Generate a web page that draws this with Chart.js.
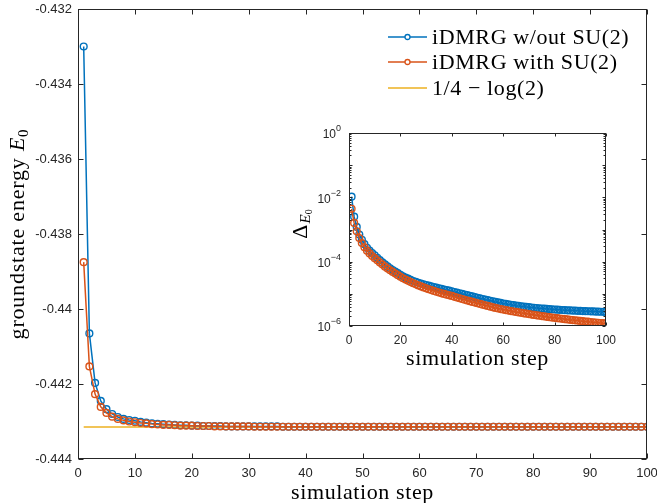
<!DOCTYPE html>
<html>
<head>
<meta charset="utf-8">
<script src="https://cdn.jsdelivr.net/npm/chart.js@4.4.1/dist/chart.umd.min.js"></script>
<style>
  html, body { margin: 0; padding: 0; background: #fff; }
  #wrap { position: relative; width: 657px; height: 503px; }
  #mainChart { position: absolute; left: 0; top: 0; }
  #insetChart { position: absolute; left: 280px; top: 115px; }
</style>
</head>
<body>
<div id="wrap">
  <canvas id="mainChart" width="657" height="503"></canvas>
  <canvas id="insetChart" width="340" height="265"></canvas>
</div>
<script>
// simulation steps 1..100
var steps = Array.from({ length: 100 }, function (_, i) { return i + 1; });

// groundstate energy per step (main plot)
var energyNoSu2 = [
  -0.43300, -0.44065, -0.44197, -0.44245, -0.44267, -0.44280, -0.44288, -0.44293, -0.44296, -0.44298,
  -0.44301, -0.44303, -0.44305, -0.44306, -0.44307, -0.44308, -0.44309, -0.44310, -0.44310, -0.44311,
  -0.44311, -0.44312, -0.44312, -0.44312, -0.44312, -0.44313, -0.44313, -0.44313, -0.44313, -0.44313,
  -0.44313, -0.44313, -0.44313, -0.44313, -0.44313, -0.44314, -0.44314, -0.44314, -0.44314, -0.44314,
  -0.44314, -0.44314, -0.44314, -0.44314, -0.44314, -0.44314, -0.44314, -0.44314, -0.44314, -0.44314,
  -0.44314, -0.44314, -0.44314, -0.44314, -0.44314, -0.44314, -0.44314, -0.44314, -0.44314, -0.44314,
  -0.44314, -0.44314, -0.44314, -0.44314, -0.44314, -0.44314, -0.44314, -0.44314, -0.44314, -0.44314,
  -0.44314, -0.44314, -0.44314, -0.44314, -0.44314, -0.44314, -0.44314, -0.44314, -0.44314, -0.44314,
  -0.44314, -0.44314, -0.44314, -0.44314, -0.44314, -0.44314, -0.44314, -0.44314, -0.44314, -0.44314,
  -0.44314, -0.44314, -0.44314, -0.44314, -0.44314, -0.44314, -0.44314, -0.44314, -0.44314, -0.44314
];
var energySu2 = [
  -0.43875, -0.44153, -0.44227, -0.44261, -0.44277, -0.44287, -0.44293, -0.44297, -0.44300, -0.44302,
  -0.44304, -0.44305, -0.44307, -0.44308, -0.44309, -0.44309, -0.44310, -0.44311, -0.44311, -0.44311,
  -0.44312, -0.44312, -0.44312, -0.44313, -0.44313, -0.44313, -0.44313, -0.44313, -0.44313, -0.44313,
  -0.44314, -0.44314, -0.44314, -0.44314, -0.44314, -0.44314, -0.44314, -0.44314, -0.44314, -0.44314,
  -0.44314, -0.44314, -0.44314, -0.44314, -0.44314, -0.44314, -0.44314, -0.44314, -0.44314, -0.44314,
  -0.44314, -0.44314, -0.44314, -0.44314, -0.44314, -0.44314, -0.44314, -0.44314, -0.44314, -0.44314,
  -0.44314, -0.44314, -0.44314, -0.44314, -0.44314, -0.44314, -0.44314, -0.44314, -0.44314, -0.44314,
  -0.44314, -0.44314, -0.44314, -0.44314, -0.44314, -0.44314, -0.44314, -0.44314, -0.44314, -0.44314,
  -0.44314, -0.44314, -0.44314, -0.44314, -0.44314, -0.44314, -0.44314, -0.44314, -0.44314, -0.44314,
  -0.44314, -0.44314, -0.44314, -0.44314, -0.44314, -0.44314, -0.44314, -0.44314, -0.44314, -0.44314
];
// 1/4 - log(2)
var exactEnergy = -0.443147;

// energy error per step (inset, log scale)
var deltaNoSu2 = [
  1.05e-2, 2.5e-3, 1.2e-3, 7.0e-4, 4.8e-4, 3.5e-4, 2.7e-4, 2.2e-4, 1.85e-4, 1.58e-4,
  1.32e-4, 1.11e-4, 9.5e-5, 8.2e-5, 7.1e-5, 6.25e-5, 5.5e-5, 4.9e-5, 4.4e-5, 3.9e-5,
  3.5e-5, 3.2e-5, 2.95e-5, 2.7e-5, 2.5e-5, 2.35e-5, 2.2e-5, 2.08e-5, 1.98e-5, 1.88e-5,
  1.79e-5, 1.71e-5, 1.63e-5, 1.56e-5, 1.49e-5, 1.42e-5, 1.36e-5, 1.3e-5, 1.25e-5, 1.2e-5,
  1.14e-5, 1.09e-5, 1.04e-5, 9.9e-6, 9.5e-6, 9.1e-6, 8.7e-6, 8.3e-6, 7.9e-6, 7.5e-6,
  7.2e-6, 6.9e-6, 6.6e-6, 6.35e-6, 6.1e-6, 5.85e-6, 5.6e-6, 5.4e-6, 5.2e-6, 5.0e-6,
  4.85e-6, 4.7e-6, 4.56e-6, 4.43e-6, 4.3e-6, 4.2e-6, 4.1e-6, 4.0e-6, 3.92e-6, 3.84e-6,
  3.76e-6, 3.69e-6, 3.62e-6, 3.56e-6, 3.5e-6, 3.45e-6, 3.4e-6, 3.35e-6, 3.3e-6, 3.26e-6,
  3.22e-6, 3.18e-6, 3.14e-6, 3.11e-6, 3.08e-6, 3.05e-6, 3.02e-6, 2.99e-6, 2.96e-6, 2.94e-6,
  2.91e-6, 2.89e-6, 2.87e-6, 2.85e-6, 2.83e-6, 2.81e-6, 2.79e-6, 2.77e-6, 2.76e-6, 2.75e-6
];
var deltaSu2 = [
  4.4e-3, 1.6e-3, 8.8e-4, 5.4e-4, 3.8e-4, 2.8e-4, 2.2e-4, 1.8e-4, 1.5e-4, 1.28e-4,
  1.1e-4, 9.4e-5, 8.1e-5, 7.0e-5, 6.1e-5, 5.4e-5, 4.8e-5, 4.25e-5, 3.8e-5, 3.4e-5,
  3.05e-5, 2.78e-5, 2.53e-5, 2.32e-5, 2.13e-5, 1.97e-5, 1.83e-5, 1.7e-5, 1.58e-5, 1.48e-5,
  1.39e-5, 1.31e-5, 1.23e-5, 1.16e-5, 1.1e-5, 1.04e-5, 9.9e-6, 9.4e-6, 9.0e-6, 8.6e-6,
  8.1e-6, 7.7e-6, 7.3e-6, 6.9e-6, 6.55e-6, 6.2e-6, 5.9e-6, 5.6e-6, 5.35e-6, 5.1e-6,
  4.85e-6, 4.6e-6, 4.4e-6, 4.2e-6, 4.0e-6, 3.82e-6, 3.65e-6, 3.5e-6, 3.37e-6, 3.25e-6,
  3.13e-6, 3.02e-6, 2.92e-6, 2.82e-6, 2.73e-6, 2.64e-6, 2.56e-6, 2.48e-6, 2.41e-6, 2.34e-6,
  2.27e-6, 2.21e-6, 2.15e-6, 2.09e-6, 2.03e-6, 1.98e-6, 1.93e-6, 1.88e-6, 1.83e-6, 1.79e-6,
  1.75e-6, 1.71e-6, 1.67e-6, 1.63e-6, 1.6e-6, 1.56e-6, 1.53e-6, 1.5e-6, 1.47e-6, 1.44e-6,
  1.41e-6, 1.38e-6, 1.36e-6, 1.33e-6, 1.31e-6, 1.28e-6, 1.26e-6, 1.24e-6, 1.22e-6, 1.2e-6
];

var seriesLabels = ['iDMRG w/out SU(2)', 'iDMRG with SU(2)', '1/4 \u2212 log(2)'];
var mainXTicks = [0, 10, 20, 30, 40, 50, 60, 70, 80, 90, 100];
var mainYTicks = [-0.444, -0.442, -0.44, -0.438, -0.436, -0.434, -0.432];
var insetXTicks = [0, 20, 40, 60, 80, 100];
var insetYExps = [-6, -4, -2, 0];

var BLUE = '#0072BD', ORANGE = '#D95319', YELLOW = '#EDB120', AXIS = '#262626';
var SERIF = '"Liberation Serif", "DejaVu Serif", serif';
var SANS = '"Liberation Sans", Arial, sans-serif';

function xy(ys) {
  return steps.map(function (s, i) { return { x: s, y: ys[i] }; });
}

function lineSet(label, data, color, order) {
  return {
    label: label, data: data, borderColor: color, borderWidth: 1.5,
    pointRadius: 3.4, pointBorderWidth: 1.4, pointBorderColor: color,
    pointBackgroundColor: 'rgba(0,0,0,0)', tension: 0, order: order
  };
}

// keep chartArea where the layout padding says
function noPad(s) {
  s.paddingLeft = 0; s.paddingRight = 0; s.paddingTop = 0; s.paddingBottom = 0;
}

// text with a bit of tracking, to get closer to the LaTeX widths
function spaced(ctx, px) {
  if ('letterSpacing' in ctx) ctx.letterSpacing = px + 'px';
}

//- box with inward ticks on all four sides, MATLAB style -
var matlabBox = {
  id: 'matlabBox',
  afterDraw: function (chart, args, opts) {
    var ctx = chart.ctx, a = chart.chartArea, x = chart.scales.x, y = chart.scales.y;
    var L = Math.round(a.left) + 0.5, R = Math.round(a.right) - 0.5;
    var T = Math.round(a.top) + 0.5, B = Math.round(a.bottom) - 0.5;
    ctx.save();
    ctx.strokeStyle = AXIS;
    ctx.lineWidth = 1;
    ctx.strokeRect(L, T, R - L, B - T);
    ctx.beginPath();
    opts.xTicks.forEach(function (v) {
      var px = Math.round(x.getPixelForValue(v)) + 0.5;
      ctx.moveTo(px, B); ctx.lineTo(px, B - opts.len);
      ctx.moveTo(px, T); ctx.lineTo(px, T + opts.len);
    });
    opts.yTicks.forEach(function (v) {
      var py = Math.round(y.getPixelForValue(v)) + 0.5;
      ctx.moveTo(L, py); ctx.lineTo(L + opts.len, py);
      ctx.moveTo(R, py); ctx.lineTo(R - opts.len, py);
    });
    (opts.yMinor || []).forEach(function (v) {
      var py = Math.round(y.getPixelForValue(v)) + 0.5;
      ctx.moveTo(L, py); ctx.lineTo(L + opts.minorLen, py);
      ctx.moveTo(R, py); ctx.lineTo(R - opts.minorLen, py);
    });
    ctx.stroke();
    ctx.restore();

    // x title, centred under the box
    ctx.save();
    ctx.font = opts.titleFont;
    spaced(ctx, opts.titleSpacing);
    ctx.fillStyle = '#000';
    ctx.textAlign = 'center';
    ctx.textBaseline = 'alphabetic';
    ctx.fillText('simulation step', (a.left + a.right) / 2, opts.titleBaseline);
    ctx.restore();
  }
};

// y label and legend for the main axes
var mainTexts = {
  id: 'mainTexts',
  afterDraw: function (chart) {
    var ctx = chart.ctx, a = chart.chartArea;
    ctx.save();
    spaced(ctx, 0.8);
    // rotated y title: groundstate energy E_0
    var f1 = '22px ' + SERIF, f2 = 'italic 22px ' + SERIF, f3 = '15px ' + SERIF;
    ctx.font = f1; var w1 = ctx.measureText('groundstate energy ').width;
    ctx.font = f2; var w2 = ctx.measureText('E').width;
    ctx.font = f3; var w3 = ctx.measureText('0').width;
    var total = w1 + w2 + w3;
    ctx.translate(24, (a.top + a.bottom) / 2);
    ctx.rotate(-Math.PI / 2);
    ctx.fillStyle = '#000';
    ctx.textBaseline = 'alphabetic';
    var sx = -total / 2;
    ctx.font = f1; ctx.fillText('groundstate energy ', sx, 0);
    ctx.font = f2; ctx.fillText('E', sx + w1, 0);
    ctx.font = f3; ctx.fillText('0', sx + w1 + w2, 4);
    ctx.restore();

    // legend
    var colors = [BLUE, ORANGE, YELLOW];
    var rows = [37, 62, 88];
    ctx.save();
    ctx.font = '22px ' + SERIF;
    spaced(ctx, 0.6);
    ctx.textBaseline = 'middle';
    ctx.fillStyle = '#000';
    for (var i = 0; i < 3; i++) {
      ctx.strokeStyle = colors[i];
      ctx.lineWidth = 1.5;
      ctx.beginPath();
      ctx.moveTo(388, rows[i]); ctx.lineTo(427, rows[i]);
      ctx.stroke();
      if (i < 2) {
        ctx.lineWidth = 1.3;
        ctx.beginPath();
        ctx.arc(407.5, rows[i], 2.5, 0, Math.PI * 2);
        ctx.fillStyle = '#fff'; ctx.fill();
        ctx.stroke();
        ctx.fillStyle = '#000';
      }
      ctx.fillText(seriesLabels[i], 432, rows[i] + 1);
    }
    ctx.restore();
  }
};

//-------------
//- MAIN PLOT -
//-------------
new Chart(document.getElementById('mainChart'), {
  type: 'line',
  data: {
    datasets: [
      lineSet(seriesLabels[0], xy(energyNoSu2), BLUE, 2),
      lineSet(seriesLabels[1], xy(energySu2), ORANGE, 1),
      {
        label: seriesLabels[2], data: [{ x: 1, y: exactEnergy }, { x: 100, y: exactEnergy }],
        borderColor: YELLOW, borderWidth: 1.5, pointRadius: 0, order: 3
      }
    ]
  },
  options: {
    responsive: false,
    animation: false,
    layout: { padding: { top: 9, right: 10, left: 0, bottom: 0 } },
    plugins: {
      legend: { display: false },
      tooltip: { enabled: false },
      matlabBox: {
        xTicks: mainXTicks, yTicks: mainYTicks, len: 5,
        titleFont: '22px ' + SERIF, titleSpacing: 0.6, titleBaseline: 499
      }
    },
    scales: {
      x: {
        type: 'linear', min: 0, max: 100,
        afterBuildTicks: function (s) { s.ticks = mainXTicks.map(function (v) { return { value: v }; }); },
        ticks: { font: { family: SANS, size: 13 }, color: AXIS, padding: 7, maxRotation: 0 },
        grid: { display: false, drawTicks: false },
        border: { display: false },
        afterFit: function (s) { s.height = 44; noPad(s); }
      },
      y: {
        type: 'linear', min: -0.444, max: -0.432,
        afterBuildTicks: function (s) { s.ticks = mainYTicks.map(function (v) { return { value: v }; }); },
        ticks: {
          font: { family: SANS, size: 13 }, color: AXIS, padding: 6,
          callback: function (v) { return String(+v.toFixed(3)); }
        },
        grid: { display: false, drawTicks: false },
        border: { display: false },
        afterFit: function (s) { s.width = 78; noPad(s); }
      }
    }
  },
  plugins: [matlabBox, mainTexts]
});

//-------------
//- INSET     -
//-------------
var minorTicks = [];
for (var e = -6; e < 0; e++) {
  for (var m = 2; m <= 9; m++) minorTicks.push(m * Math.pow(10, e));
}
var majorTicks = [1e-6, 1e-5, 1e-4, 1e-3, 1e-2, 1e-1, 1];

var insetTexts = {
  id: 'insetTexts',
  afterDraw: function (chart) {
    var ctx = chart.ctx, a = chart.chartArea, y = chart.scales.y;
    ctx.save();
    ctx.fillStyle = AXIS;
    ctx.textBaseline = 'middle';
    insetYExps.forEach(function (p) {
      var py = y.getPixelForValue(Math.pow(10, p));
      var ex = String(p).replace('-', '\u2212');
      ctx.font = '9px ' + SANS;
      var we = ctx.measureText(ex).width;
      ctx.textAlign = 'right';
      var right = a.left - 8;
      ctx.fillText(ex, right, py - 4);
      ctx.font = '12px ' + SANS;
      ctx.fillText('10', right - we, py + 2);
    });
    ctx.restore();

    // rotated y title: Delta_{E_0}
    ctx.save();
    ctx.fillStyle = '#000';
    ctx.textAlign = 'left';
    ctx.textBaseline = 'alphabetic';
    var fD = '22px ' + SERIF, fE = 'italic 15px ' + SERIF, f0 = '10px ' + SERIF;
    ctx.font = fD; var wD = ctx.measureText('\u0394').width;
    ctx.font = fE; var wE = ctx.measureText('E').width;
    ctx.font = f0; var w0 = ctx.measureText('0').width;
    var total = wD + wE + w0 + 1;
    ctx.translate(27, 109);
    ctx.rotate(-Math.PI / 2);
    var sx = -total / 2;
    ctx.font = fD; ctx.fillText('\u0394', sx, 0);
    ctx.font = fE; ctx.fillText('E', sx + wD + 1, 3);
    ctx.font = f0; ctx.fillText('0', sx + wD + 1 + wE, 5);
    ctx.restore();
  }
};

new Chart(document.getElementById('insetChart'), {
  type: 'line',
  data: {
    datasets: [
      lineSet(seriesLabels[0], xy(deltaNoSu2), BLUE, 2),
      lineSet(seriesLabels[1], xy(deltaSu2), ORANGE, 1)
    ]
  },
  options: {
    responsive: false,
    animation: false,
    layout: { padding: { top: 18, right: 14, left: 0, bottom: 0 } },
    plugins: {
      legend: { display: false },
      tooltip: { enabled: false },
      matlabBox: {
        xTicks: insetXTicks, yTicks: majorTicks, yMinor: minorTicks, len: 3, minorLen: 2,
        titleFont: '22px ' + SERIF, titleSpacing: 0.6, titleBaseline: 250
      }
    },
    scales: {
      x: {
        type: 'linear', min: 0, max: 100,
        afterBuildTicks: function (s) { s.ticks = insetXTicks.map(function (v) { return { value: v }; }); },
        ticks: { font: { family: SANS, size: 12 }, color: AXIS, padding: 7, maxRotation: 0 },
        grid: { display: false, drawTicks: false },
        border: { display: false },
        afterFit: function (s) { s.height = 54; noPad(s); }
      },
      y: {
        type: 'logarithmic', min: 1e-6, max: 1,
        ticks: { display: false },
        grid: { display: false, drawTicks: false },
        border: { display: false },
        afterFit: function (s) { s.width = 69; noPad(s); }
      }
    }
  },
  plugins: [matlabBox, insetTexts]
});
</script>
</body>
</html>
